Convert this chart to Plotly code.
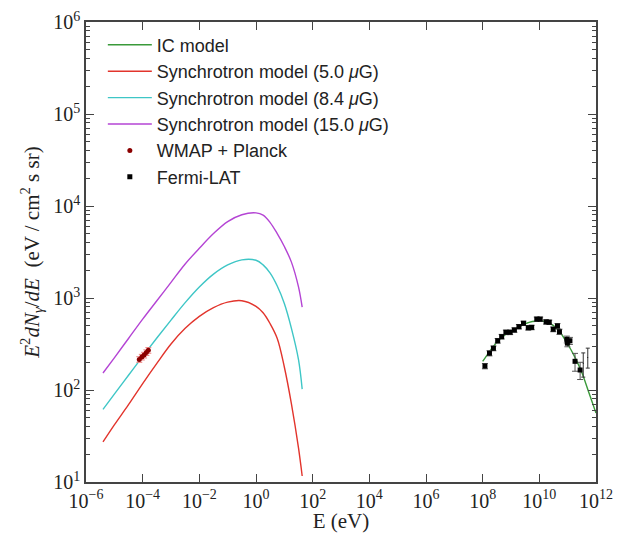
import plotly.graph_objects as go

# ---- Synchrotron models (log10 E [eV] -> log10 E^2 dN/dE) ----
sync_logE = [-5.4, -5.0, -4.5, -4.0, -3.5, -3.0, -2.5, -2.0, -1.5, -1.0, -0.5, 0.0,
             0.25, 0.5, 0.75, 1.0, 1.25, 1.5, 1.63]
sync_5_log = [1.435, 1.62, 1.84, 2.07, 2.29, 2.50, 2.67, 2.80, 2.895, 2.955, 2.97, 2.91,
              2.84, 2.72, 2.56, 2.25, 1.85, 1.37, 1.065]
sync_84_log = [1.79, 1.955, 2.16, 2.365, 2.565, 2.76, 2.95, 3.12, 3.26, 3.36, 3.415, 3.41,
               3.36, 3.27, 3.13, 2.94, 2.67, 2.33, 2.01]
sync_15_log = [2.185, 2.35, 2.56, 2.77, 2.97, 3.17, 3.37, 3.54, 3.70, 3.83, 3.905, 3.925,
               3.90, 3.82, 3.70, 3.56, 3.39, 3.12, 2.90]

# ---- IC model ----
ic_logE = [8.0, 8.25, 8.5, 8.75, 9.0, 9.25, 9.5, 9.75, 10.0, 10.25, 10.5, 10.75,
           11.0, 11.25, 11.5, 11.75, 12.0]
ic_log = [2.31, 2.42, 2.52, 2.59, 2.64, 2.68, 2.72, 2.745, 2.75, 2.74, 2.70, 2.62,
          2.50, 2.36, 2.19, 1.97, 1.75]

# ---- WMAP + Planck ----
wmap_logE = [-4.12, -4.03, -3.95, -3.87, -3.80]
wmap_val = [215, 228, 240, 255, 270]
wmap_err = [15, 16, 17, 18, 19]

# ---- Fermi-LAT ----
fermi_logE = [8.08, 8.24, 8.38, 8.53, 8.67, 8.82, 8.97, 9.12, 9.28, 9.44, 9.61, 9.73,
              9.91, 10.03, 10.24, 10.35, 10.49, 10.64, 10.71, 10.97, 11.08, 10.99,
              11.26, 11.44]
fermi_val = [182, 251, 284, 343, 380, 424, 424, 449, 488, 531, 475, 479,
             589, 589, 550, 545, 457, 497, 430, 355, 343, 323, 205, 165]
fermi_err = [12, 16, 17, 20, 22, 24, 24, 25, 27, 29, 27, 27,
             32, 32, 30, 30, 27, 30, 28, 30, 30, 28, 45, 35]
ul_logE = [11.55, 11.71]
ul_val = [195, 225]
ul_up = [58, 60]
ul_dn = [57, 52]

# ---- tick labels ----
x_exps = [-6, -4, -2, 0, 2, 4, 6, 8, 10, 12]
y_exps = [1, 2, 3, 4, 5, 6]
minor_mant = [2, 3, 4, 5, 6, 7, 8, 9]


def tenpow(a):
    return [10 ** v for v in a]


def sup(e):
    return "10<sup>" + str(e).replace("-", "\u2212") + "</sup>"


GREEN = "#3a9a3a"
RED = "#e2342c"
CYAN = "#3ec6c6"
MAG = "#b444d4"
LW = 1.4

fig = go.Figure()
fig.add_trace(go.Scatter(x=tenpow(ic_logE), y=tenpow(ic_log), mode="lines",
                         line=dict(color=GREEN, width=LW, shape="spline"),
                         name="IC model", legendgroup="a"))
fig.add_trace(go.Scatter(x=tenpow(sync_logE), y=tenpow(sync_5_log), mode="lines",
                         line=dict(color=RED, width=LW, shape="spline"),
                         name="Synchrotron model (5.0 <i>μ</i>G)", legendgroup="b"))
fig.add_trace(go.Scatter(x=tenpow(sync_logE), y=tenpow(sync_84_log), mode="lines",
                         line=dict(color=CYAN, width=LW, shape="spline"),
                         name="Synchrotron model (8.4 <i>μ</i>G)", legendgroup="c"))
fig.add_trace(go.Scatter(x=tenpow(sync_logE), y=tenpow(sync_15_log), mode="lines",
                         line=dict(color=MAG, width=LW, shape="spline"),
                         name="Synchrotron model (15.0 <i>μ</i>G)", legendgroup="d"))
fig.add_trace(go.Scatter(x=tenpow(wmap_logE), y=wmap_val, mode="markers",
                         marker=dict(color="#8b0000", size=5),
                         error_y=dict(type="data", array=wmap_err, color="#f08080",
                                      thickness=1, width=3),
                         name="WMAP + Planck", legendgroup="e"))
fig.add_trace(go.Scatter(x=tenpow(fermi_logE), y=fermi_val, mode="markers",
                         marker=dict(color="black", size=5, symbol="square"),
                         error_y=dict(type="data", array=fermi_err, color="#555555",
                                      thickness=1, width=3),
                         name="Fermi-LAT", legendgroup="f"))
fig.add_trace(go.Scatter(x=tenpow(ul_logE), y=ul_val, mode="markers",
                         marker=dict(color="black", size=1),
                         error_y=dict(type="data", array=ul_up, arrayminus=ul_dn,
                                      symmetric=False, color="#333333",
                                      thickness=1, width=2),
                         showlegend=False, legendgroup="f"))

axis_common = dict(
    type="log", showgrid=False, zeroline=False, showline=True, automargin=False,
    linecolor="#444444", linewidth=1.5, mirror="allticks", ticks="inside",
    tickcolor="#444444", ticklen=8, tickwidth=1,
    tickfont=dict(family="Liberation Serif", size=20, color="#222222"),
)

y_minor = [m * 10 ** e for e in y_exps[:-1] for m in minor_mant]

fig.update_xaxes(range=[-6, 12], tickmode="array",
                 tickvals=[10 ** e for e in x_exps], ticktext=[sup(e) for e in x_exps],
                 title=dict(text="E (eV)", standoff=4,
                            font=dict(family="Liberation Serif", size=21, color="#222222")),
                 **axis_common)
fig.update_yaxes(range=[1, 6], tickmode="array",
                 tickvals=[10 ** e for e in y_exps], ticktext=[sup(e) for e in y_exps],
                 minor=dict(ticks="inside", ticklen=4, tickcolor="#444444",
                            tickmode="array", tickvals=y_minor),
                 title=dict(text="<i>E</i><sup>2</sup><i>dN<sub>γ</sub></i>/<i>dE</i>  (eV / cm<sup>2</sup> s sr)",
                            standoff=8,
                            font=dict(family="Liberation Serif", size=21, color="#222222")),
                 **axis_common)

fig.update_layout(
    width=619, height=533,
    margin=dict(l=86, r=23, t=22, b=51),
    paper_bgcolor="white", plot_bgcolor="white",
    showlegend=True,
    legend=dict(x=0.033, y=0.99, xanchor="left", yanchor="top",
                bgcolor="rgba(0,0,0,0)", borderwidth=0,
                font=dict(family="Liberation Sans", size=18, color="#222222"),
                itemwidth=44, tracegroupgap=0),
)

fig.write_html("out.html")
